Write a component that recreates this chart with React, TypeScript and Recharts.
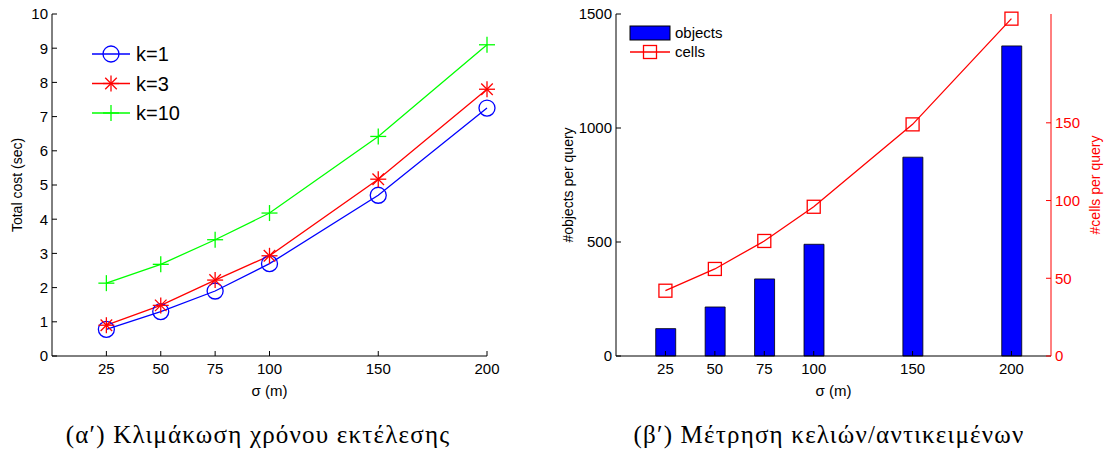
import { ComposedChart, LineChart, Line, Bar, XAxis, YAxis, Legend } from 'recharts';

// sigma values (m) shared by both panels
const sigma = [25, 50, 75, 100, 150, 200];
const sigmaTicks = [25, 50, 75, 100, 150, 200];

// (a) total cost in seconds, one array per k
const costK1 = [0.78, 1.3, 1.9, 2.7, 4.7, 7.25];
const costK3 = [0.9, 1.48, 2.22, 2.93, 5.17, 7.8];
const costK10 = [2.13, 2.68, 3.4, 4.18, 6.42, 9.1];
const costTicks = [0, 1, 2, 3, 4, 5, 6, 7, 8, 9, 10];

// (b) objects and cells per query
const objectsPerQuery = [120, 215, 338, 490, 872, 1360];
const cellsPerQuery = [42, 56, 74, 96, 149, 217];
const objectTicks = [0, 500, 1000, 1500];
const cellTicks = [0, 50, 100, 150];

const captions = ['(α′) Κλιμάκωση χρόνου εκτέλεσης', '(β′) Μέτρηση κελιών/αντικειμένων'];

// legend order as in the figure (recharts sorts by name otherwise)
const legendOrder = ['k1', 'k3', 'k10', 'objects', 'cells'];

const costData = sigma.map((s, i) => ({ sigma: s, k1: costK1[i], k3: costK3[i], k10: costK10[i] }));
const countData = sigma.map((s, i) => ({ sigma: s, objects: objectsPerQuery[i], cells: cellsPerQuery[i] }));

const FONT = '"Liberation Sans", Arial, Helvetica, sans-serif';
const BLUE = '#0000ff';
const RED = '#ff0000';
const GREEN = '#00ff00';
const tickStyle = { fontSize: 15, fill: '#000', fontFamily: FONT };
const blank = () => '';

function CircleDot(props: any) {
    const { cx, cy, stroke } = props;
    if (cx == null || cy == null) return null;
    return <circle cx={cx} cy={cy} r={8} fill="none" stroke={stroke} strokeWidth={1.3} />;
}

function StarDot(props: any) {
    const { cx, cy, stroke } = props;
    if (cx == null || cy == null) return null;
    const r = 8;
    const d = r * 0.72;
    return (
        <g stroke={stroke} strokeWidth={1.3}>
            <line x1={cx - r} y1={cy} x2={cx + r} y2={cy} />
            <line x1={cx} y1={cy - r} x2={cx} y2={cy + r} />
            <line x1={cx - d} y1={cy - d} x2={cx + d} y2={cy + d} />
            <line x1={cx - d} y1={cy + d} x2={cx + d} y2={cy - d} />
        </g>
    );
}

function PlusDot(props: any) {
    const { cx, cy, stroke } = props;
    if (cx == null || cy == null) return null;
    const r = 8;
    return (
        <g stroke={stroke} strokeWidth={1.3}>
            <line x1={cx - r} y1={cy} x2={cx + r} y2={cy} />
            <line x1={cx} y1={cy - r} x2={cx} y2={cy + r} />
        </g>
    );
}

function SquareDot(props: any) {
    const { cx, cy, stroke } = props;
    if (cx == null || cy == null) return null;
    return <rect x={cx - 6.5} y={cy - 6.5} width={13} height={13} fill="none" stroke={stroke} strokeWidth={1.3} />;
}

const markers: Record<string, (p: any) => any> = { k1: CircleDot, k3: StarDot, k10: PlusDot, cells: SquareDot };

const ordered = (payload: any[] | undefined) =>
    [...(payload || [])].sort((a, b) => legendOrder.indexOf(a.dataKey) - legendOrder.indexOf(b.dataKey));

function CostLegend({ payload }: any) {
    const rows = ordered(payload);
    return (
        <svg width={110} height={90} style={{ overflow: 'visible', display: 'block' }}>
            {rows.map((entry: any, i: number) => {
                const y = 14 + i * 29.5;
                const Marker = markers[entry.dataKey];
                return (
                    <g key={entry.dataKey}>
                        <line x1={4} y1={y} x2={42} y2={y} stroke={entry.color} strokeWidth={1.3} />
                        <Marker cx={23} cy={y} stroke={entry.color} />
                        <text x={48} y={y} dy="0.36em" fontSize={20} fontFamily={FONT} fill="#000">
                            {entry.value}
                        </text>
                    </g>
                );
            })}
        </svg>
    );
}

function CountLegend({ payload }: any) {
    const rows = ordered(payload);
    return (
        <svg width={110} height={40} style={{ overflow: 'visible', display: 'block' }}>
            {rows.map((entry: any, i: number) => {
                const y = 8 + i * 19;
                return (
                    <g key={entry.dataKey}>
                        {entry.dataKey === 'objects' ? (
                            <rect x={0} y={y - 7} width={40} height={14} fill={BLUE} stroke="#000" strokeWidth={1} />
                        ) : (
                            <g>
                                <line x1={0} y1={y} x2={40} y2={y} stroke={RED} strokeWidth={1.3} />
                                <SquareDot cx={20} cy={y} stroke={RED} />
                            </g>
                        )}
                        <text x={45} y={y} dy="0.36em" fontSize={15} fontFamily={FONT} fill="#000">
                            {entry.value}
                        </text>
                    </g>
                );
            })}
        </svg>
    );
}

function CostChart() {
    return (
        <LineChart width={500} height={400} data={costData} margin={{ top: 14, right: 13, bottom: 0, left: 12 }}>
            <XAxis
                xAxisId="b"
                dataKey="sigma"
                type="number"
                domain={[0, 200]}
                ticks={sigmaTicks}
                height={44}
                stroke="#000"
                tickSize={-5}
                tickMargin={12}
                tick={tickStyle}
                label={{ value: 'σ (m)', position: 'insideBottom', offset: 4, fontSize: 15, fill: '#000', fontFamily: FONT }}
            />
            <XAxis xAxisId="t" orientation="top" dataKey="sigma" type="number" domain={[0, 200]} ticks={sigmaTicks} height={0} stroke="#000" tickSize={-5} tickFormatter={blank} />
            <YAxis
                yAxisId="l"
                type="number"
                domain={[0, 10]}
                ticks={costTicks}
                width={40}
                stroke="#000"
                tickSize={-5}
                tickMargin={9}
                tick={tickStyle}
                label={{ value: 'Total cost (sec)', angle: -90, position: 'center', dx: -15, fontSize: 14, fill: '#000', fontFamily: FONT }}
            />
            <YAxis yAxisId="r" orientation="right" type="number" domain={[0, 10]} ticks={costTicks} width={0} stroke="#000" tickSize={-5} tickFormatter={blank} />
            <Legend
                layout="horizontal"
                verticalAlign="middle"
                align="center"
                content={<CostLegend />}
                wrapperStyle={{ left: 88, top: 40, width: 110 }}
            />
            <Line xAxisId="b" yAxisId="l" dataKey="k1" name="k=1" stroke={BLUE} strokeWidth={1.3} dot={<CircleDot />} isAnimationActive={false} />
            <Line xAxisId="b" yAxisId="l" dataKey="k3" name="k=3" stroke={RED} strokeWidth={1.3} dot={<StarDot />} isAnimationActive={false} />
            <Line xAxisId="b" yAxisId="l" dataKey="k10" name="k=10" stroke={GREEN} strokeWidth={1.3} dot={<PlusDot />} isAnimationActive={false} />
        </LineChart>
    );
}

function CountChart() {
    return (
        <ComposedChart width={555} height={400} data={countData} margin={{ top: 14, right: 0, bottom: 0, left: 8 }}>
            <XAxis
                xAxisId="b"
                dataKey="sigma"
                type="number"
                domain={[0, 220]}
                ticks={sigmaTicks}
                height={44}
                stroke="#000"
                tickSize={-5}
                tickMargin={12}
                tick={tickStyle}
                label={{ value: 'σ (m)', position: 'insideBottom', offset: 4, fontSize: 15, fill: '#000', fontFamily: FONT }}
            />
            <XAxis xAxisId="t" orientation="top" dataKey="sigma" type="number" domain={[0, 220]} height={0} stroke="#000" tickLine={false} tickFormatter={blank} />
            <YAxis
                yAxisId="l"
                type="number"
                domain={[0, 1500]}
                ticks={objectTicks}
                width={58}
                stroke="#000"
                tickSize={-5}
                tickMargin={9}
                tick={tickStyle}
                label={{ value: '#objects per query', angle: -90, position: 'center', dx: -19, fontSize: 14, fill: '#000', fontFamily: FONT }}
            />
            <YAxis yAxisId="m" orientation="right" type="number" domain={[0, 1500]} ticks={objectTicks} width={0} stroke="#000" tickSize={-5} tickFormatter={blank} />
            <YAxis
                yAxisId="r"
                orientation="right"
                type="number"
                domain={[0, 220]}
                ticks={cellTicks}
                width={54}
                stroke={RED}
                tickSize={-5}
                tickMargin={9}
                tick={{ ...tickStyle, fill: RED }}
                label={{ value: '#cells per query', angle: -90, position: 'center', dx: 17, fontSize: 14, fill: RED, fontFamily: FONT }}
            />
            <Legend
                layout="horizontal"
                verticalAlign="middle"
                align="center"
                content={<CountLegend />}
                wrapperStyle={{ left: 80, top: 25, width: 110 }}
            />
            <Bar xAxisId="b" yAxisId="l" dataKey="objects" name="objects" fill={BLUE} stroke="#000" strokeWidth={0.8} barSize={20} isAnimationActive={false} />
            <Line xAxisId="b" yAxisId="r" dataKey="cells" name="cells" stroke={RED} strokeWidth={1.3} dot={<SquareDot />} isAnimationActive={false} />
        </ComposedChart>
    );
}

export default function App() {
    return (
        <div style={{ position: 'absolute', left: 0, top: 0, width: 1105, height: 455, background: '#fff' }}>
            <div style={{ position: 'absolute', left: 0, top: 0 }}>
                <CostChart />
            </div>
            <div style={{ position: 'absolute', left: 550, top: 0 }}>
                <CountChart />
            </div>
            {captions.map((c, i) => (
                <div
                    key={c}
                    style={{
                        position: 'absolute',
                        left: i === 0 ? 58 : 579,
                        width: i === 0 ? 400 : 500,
                        top: 420,
                        textAlign: 'center',
                        fontFamily: '"Liberation Serif", "DejaVu Serif", serif',
                        fontSize: 25,
                        letterSpacing: 1.2,
                        lineHeight: '30px',
                        color: '#000',
                        whiteSpace: 'nowrap',
                    }}
                >
                    {c}
                </div>
            ))}
        </div>
    );
}
